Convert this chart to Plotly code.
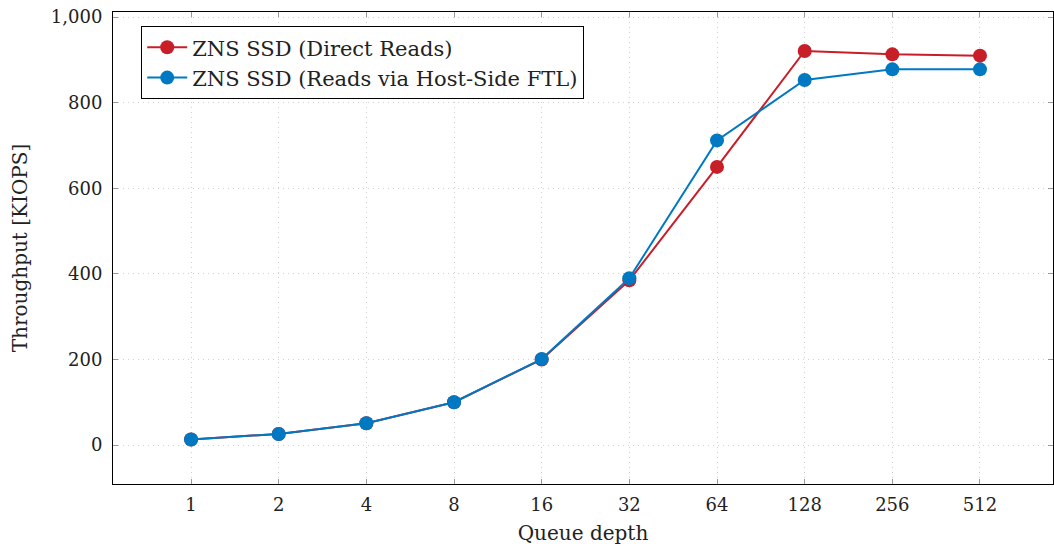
import plotly.graph_objects as go

queue_depth = [1, 2, 4, 8, 16, 32, 64, 128, 256, 512]
tick_labels = ["1", "2", "4", "8", "16", "32", "64", "128", "256", "512"]
direct_reads = [13, 26, 51, 100, 200, 385, 650, 921, 913, 910]
host_ftl_reads = [13, 26, 51, 100, 201, 390, 712, 853, 878, 878]

RED = "#C81E28"
BLUE = "#0079C2"
FONT = "DejaVu Serif"
TEXT = "#222222"

fig = go.Figure()
fig.add_trace(go.Scatter(
    x=queue_depth, y=direct_reads, mode="lines+markers",
    name="ZNS SSD (Direct Reads)",
    line=dict(color=RED, width=2), marker=dict(color=RED, size=14),
))
fig.add_trace(go.Scatter(
    x=queue_depth, y=host_ftl_reads, mode="lines+markers",
    name="ZNS SSD (Reads via Host-Side FTL)",
    line=dict(color=BLUE, width=2), marker=dict(color=BLUE, size=14),
))

axis_common = dict(
    showline=True, linecolor="black", linewidth=1, mirror="allticks",
    ticks="inside", ticklen=5, tickcolor="#999999",
    showgrid=True, gridcolor="#d0d0d0", griddash="1px,4px", gridwidth=1,
    zeroline=False,
    tickfont=dict(family=FONT, size=18, color=TEXT),
)

fig.update_xaxes(
    type="log", range=[-0.268, 2.96],
    tickvals=queue_depth, ticktext=tick_labels,
    ticklabelstandoff=4,
    title=dict(text="Queue depth", font=dict(family=FONT, size=20, color=TEXT), standoff=12),
    **axis_common,
)
fig.update_yaxes(
    range=[-91, 1012],
    tickvals=[0, 200, 400, 600, 800, 1000],
    ticktext=["0", "200", "400", "600", "800", "1,000"],
    ticklabelstandoff=6,
    title=dict(text="Throughput [KIOPS]", font=dict(family=FONT, size=20, color=TEXT), standoff=17),
    **axis_common,
)

fig.update_layout(
    width=1054, height=549,
    margin=dict(l=113, r=1, t=12, b=65),
    paper_bgcolor="white", plot_bgcolor="white",
    showlegend=True,
    legend=dict(
        x=0.03, y=0.97, xanchor="left", yanchor="top",
        bordercolor="black", borderwidth=1, bgcolor="white",
        font=dict(family=FONT, size=21, color=TEXT),
        tracegroupgap=0, itemwidth=40,
    ),
)

fig.write_html("out.html")
